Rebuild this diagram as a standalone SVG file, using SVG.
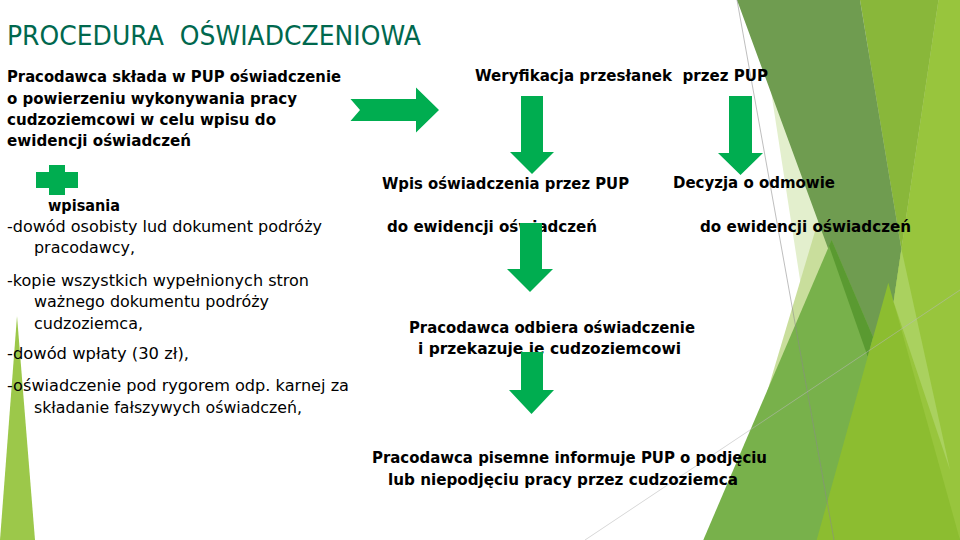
<svg xmlns="http://www.w3.org/2000/svg" width="960" height="540" viewBox="0 0 960 540">
<style>
.t{font-family:"DejaVu Sans","Liberation Sans",Arial,sans-serif;font-size:16px;fill:#000;white-space:pre}
.b{font-weight:bold}
.title{font-family:"DejaVu Sans","Liberation Sans",Arial,sans-serif;font-size:26px;fill:#00684e;white-space:pre}
.arr{fill:#00ad50}
.ln{fill:none;stroke-width:0.8}
</style>
<rect width="960" height="540" fill="#fff"/>
<g id="decoration">
<polygon points="757,0 960,0 960,540 840,540" fill="#e3efcd"/>
<polygon points="884,0 960,0 960,540 723,540" fill="#c9de9c"/>
<polygon points="938.5,0 960,0 960,540 858,540" fill="#98c53d"/>
<polygon points="860,0 938.5,0 901.4,249" fill="#89b73a"/>
<polygon points="737,0 860,0 901.4,249 893.6,301.8 880,330 867.7,356.5" fill="#6f9c50"/>
<polygon points="831.6,240 703.3,540 960,540" fill="#78b14b"/>
<polygon points="829,246 831.6,240 873,337 867.7,356.5" fill="#5a9a31"/>
<polygon points="888.3,282.7 816.7,540 960,540" fill="#8cbd30"/>
<polygon points="901.4,249 950,470 893.6,301.8" fill="#aad15f"/>
<line class="ln" x1="737" y1="0" x2="834" y2="540" stroke="#8a8a8a" stroke-opacity="0.7"/>
<line class="ln" x1="585" y1="540" x2="960" y2="290" stroke="#b8b8b8" stroke-opacity="0.7"/>
<polygon points="17,316 0,540 35,540" fill="#9cc84a"/>
</g>
<text id="title" class="title" x="7" y="45" textLength="414" lengthAdjust="spacingAndGlyphs">PROCEDURA  OŚWIADCZENIOWA</text>
<g id="node-sklada">
<text class="t b" x="7" y="82" textLength="334" lengthAdjust="spacingAndGlyphs">Pracodawca składa w PUP oświadczenie</text>
<text class="t b" x="7" y="104" textLength="290" lengthAdjust="spacingAndGlyphs">o powierzeniu wykonywania pracy</text>
<text class="t b" x="7" y="125" textLength="269" lengthAdjust="spacingAndGlyphs">cudzoziemcowi w celu wpisu do</text>
<text class="t b" x="7" y="146" textLength="184" lengthAdjust="spacingAndGlyphs">ewidencji oświadczeń</text>
</g>
<g id="plus">
<rect class="arr" x="49" y="165" width="16" height="30"/>
<rect class="arr" x="36" y="172" width="42" height="16"/>
</g>
<g id="node-dokumenty">
<text class="t b" x="48" y="211" textLength="72" lengthAdjust="spacingAndGlyphs">wpisania</text>
<text class="t" x="7" y="232" textLength="315" lengthAdjust="spacingAndGlyphs">-dowód osobisty lud dokument podróży</text>
<text class="t" x="34" y="253" textLength="101" lengthAdjust="spacingAndGlyphs">pracodawcy,</text>
<text class="t" x="7" y="286" textLength="302" lengthAdjust="spacingAndGlyphs">-kopie wszystkich wypełnionych stron</text>
<text class="t" x="34" y="307" textLength="235" lengthAdjust="spacingAndGlyphs">ważnego dokumentu podróży</text>
<text class="t" x="34" y="329" textLength="109" lengthAdjust="spacingAndGlyphs">cudzoziemca,</text>
<text class="t" x="7" y="359" textLength="182" lengthAdjust="spacingAndGlyphs">-dowód wpłaty (30 zł),</text>
<text class="t" x="7" y="391" textLength="342" lengthAdjust="spacingAndGlyphs">-oświadczenie pod rygorem odp. karnej za</text>
<text class="t" x="34" y="413" textLength="268" lengthAdjust="spacingAndGlyphs">składanie fałszywych oświadczeń,</text>
</g>
<g id="node-weryfikacja">
<text class="t b" x="475" y="81" textLength="293" lengthAdjust="spacingAndGlyphs">Weryfikacja przesłanek  przez PUP</text>
</g>
<g id="node-wpis">
<text class="t b" x="382" y="189" textLength="247" lengthAdjust="spacingAndGlyphs">Wpis oświadczenia przez PUP</text>
<text class="t b" x="387" y="232" textLength="210" lengthAdjust="spacingAndGlyphs">do ewidencji oświadczeń</text>
</g>
<g id="node-odmowa">
<text class="t b" x="673" y="188" textLength="162" lengthAdjust="spacingAndGlyphs">Decyzja o odmowie</text>
<text class="t b" x="700" y="232" textLength="211" lengthAdjust="spacingAndGlyphs">do ewidencji oświadczeń</text>
</g>
<g id="node-odbiera">
<text class="t b" x="409" y="333" textLength="286" lengthAdjust="spacingAndGlyphs">Pracodawca odbiera oświadczenie</text>
<text class="t b" x="418" y="354" textLength="263" lengthAdjust="spacingAndGlyphs">i przekazuje je cudzoziemcowi</text>
</g>
<g id="node-informuje">
<text class="t b" x="372" y="463" textLength="395" lengthAdjust="spacingAndGlyphs">Pracodawca pisemne informuje PUP o podjęciu</text>
<text class="t b" x="388" y="485" textLength="350" lengthAdjust="spacingAndGlyphs">lub niepodjęciu pracy przez cudzoziemca</text>
</g>
<g id="connectors">
<polygon class="arr" points="350.5,99 416,99 416,87.5 439,110 416,132.5 416,121 350.5,121 360,110"/>
<polygon class="arr" points="521,96 543,96 543,152 554,152 532,174 510,152 521,152"/>
<polygon class="arr" points="729,96 752,96 752,153 763,153 740.5,175 718,153 729,153"/>
<polygon class="arr" points="520,223 542,223 542,269 553,269 530,292 507,269 520,269"/>
<polygon class="arr" points="521,352 543,352 543,390 554,390 531.5,414 509,390 521,390"/>
</g>
</svg>
